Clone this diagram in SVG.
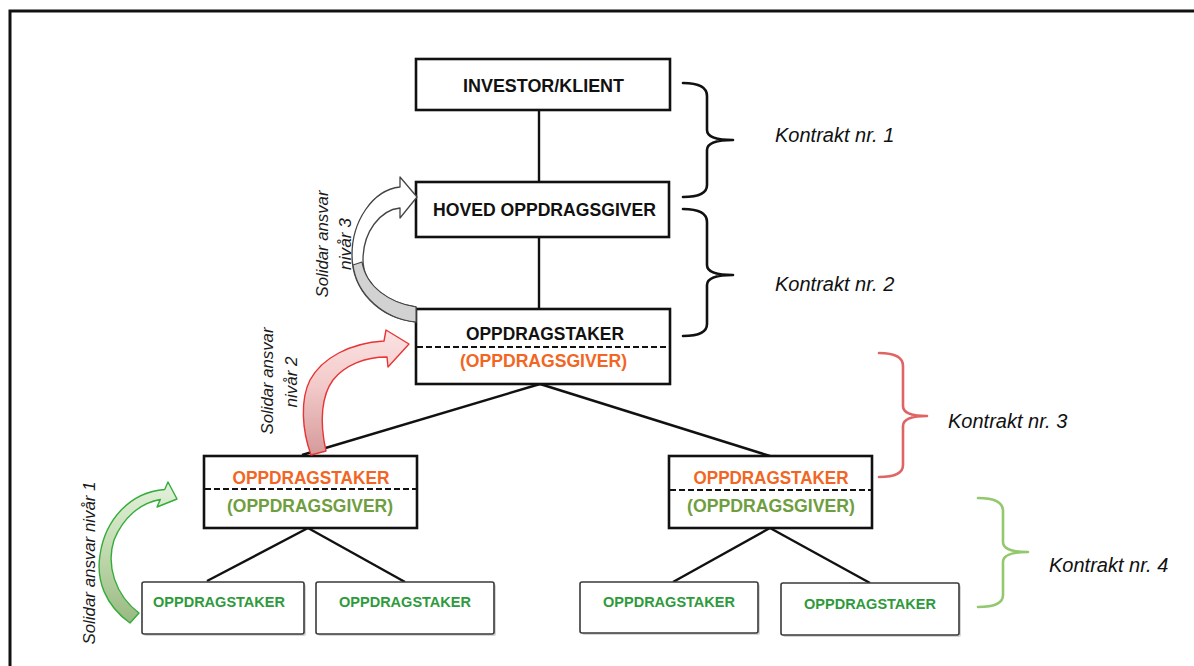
<svg xmlns="http://www.w3.org/2000/svg" width="1194" height="666" viewBox="0 0 1194 666">
  <style>
    .box { fill: #ffffff; stroke: #111111; stroke-width: 2.6; }
    .leaf { fill: #ffffff; stroke: #3a3a3a; stroke-width: 1.6; }
    .shadow { fill: #d6d6d6; }
    .split { stroke: #111111; stroke-width: 2; stroke-dasharray: 6 3; fill: none; }
    .link { stroke: #111111; stroke-width: 2.4; fill: none; }
    .brace { fill: none; stroke-width: 2.6; stroke-linecap: round; stroke-linejoin: round; }
    .t { font-family: "Liberation Sans", Arial, sans-serif; font-weight: bold; text-anchor: middle; }
    .title { font-size: 19px; fill: #111111; }
    .mid { font-size: 18px; }
    .leafText { font-size: 15.5px; fill: #2e9a3c; }
    .orange { fill: #f26522; }
    .olive { fill: #6e9e3e; }
    .label { font-family: "Liberation Sans", Arial, sans-serif; font-style: italic; font-size: 20px; fill: #111111; }
    .side { font-family: "Liberation Sans", Arial, sans-serif; font-style: italic; font-size: 17px; fill: #1a1a1a; text-anchor: middle; }
  </style>
  <defs>
    <linearGradient id="redFill" x1="0" y1="0" x2="0" y2="1">
      <stop offset="0" stop-color="#fbe3e3"/>
      <stop offset="0.45" stop-color="#f3c9c9"/>
      <stop offset="1" stop-color="#d59a9a"/>
    </linearGradient>
    <linearGradient id="greenFill" x1="0" y1="0" x2="0" y2="1">
      <stop offset="0" stop-color="#e4f1dc"/>
      <stop offset="0.45" stop-color="#c4dcb2"/>
      <stop offset="1" stop-color="#98b981"/>
    </linearGradient>
  </defs>

  <rect width="1194" height="666" fill="#ffffff"/>
  <!-- outer frame -->
  <rect x="10" y="11" width="1200" height="700" fill="none" stroke="#111111" stroke-width="3"/>

  <!-- connectors -->
  <g id="connectors">
    <line class="link" x1="539" y1="110" x2="539" y2="182"/>
    <line class="link" x1="539" y1="237" x2="539" y2="309"/>
    <line class="link" x1="540" y1="384" x2="302" y2="455"/>
    <line class="link" x1="540" y1="384" x2="770" y2="456"/>
    <line class="link" x1="308" y1="528" x2="207" y2="581"/>
    <line class="link" x1="308" y1="528" x2="405" y2="582"/>
    <line class="link" x1="770" y1="528" x2="673" y2="582"/>
    <line class="link" x1="770" y1="528" x2="870" y2="583"/>
  </g>

  <!-- nodes -->
  <g id="investor">
    <rect class="box" x="416" y="59" width="254" height="51"/>
    <text class="t title" x="543.5" y="92" textLength="161" lengthAdjust="spacingAndGlyphs">INVESTOR/KLIENT</text>
  </g>
  <g id="hoved">
    <rect class="box" x="416" y="182" width="253" height="55"/>
    <text class="t title" x="544.5" y="215.5" textLength="223" lengthAdjust="spacingAndGlyphs">HOVED OPPDRAGSGIVER</text>
  </g>
  <g id="oppdragstaker-1">
    <rect class="box" x="416" y="309" width="254" height="75"/>
    <line class="split" x1="417" y1="347" x2="669" y2="347"/>
    <text class="t mid" x="545" y="340" fill="#111111" textLength="158" lengthAdjust="spacingAndGlyphs">OPPDRAGSTAKER</text>
    <text class="t mid orange" x="543.5" y="366.5" textLength="167" lengthAdjust="spacingAndGlyphs">(OPPDRAGSGIVER)</text>
  </g>
  <g id="oppdragstaker-2a">
    <rect class="box" x="204" y="456" width="213" height="72"/>
    <line class="split" x1="205" y1="489" x2="416" y2="489"/>
    <text class="t mid orange" x="311" y="484" textLength="157" lengthAdjust="spacingAndGlyphs">OPPDRAGSTAKER</text>
    <text class="t mid olive" x="310" y="512" textLength="166" lengthAdjust="spacingAndGlyphs">(OPPDRAGSGIVER)</text>
  </g>
  <g id="oppdragstaker-2b">
    <rect class="box" x="669" y="456" width="203" height="72"/>
    <line class="split" x1="670" y1="490" x2="871" y2="490"/>
    <text class="t mid orange" x="771" y="484" textLength="155" lengthAdjust="spacingAndGlyphs">OPPDRAGSTAKER</text>
    <text class="t mid olive" x="771" y="512" textLength="168" lengthAdjust="spacingAndGlyphs">(OPPDRAGSGIVER)</text>
  </g>
  <g id="leaf-1">
    <rect class="shadow" x="144" y="584" width="162" height="52" rx="2"/>
    <rect class="leaf" x="142" y="582" width="162" height="52" rx="2"/>
    <text class="t leafText" x="219" y="606.5" textLength="132" lengthAdjust="spacingAndGlyphs">OPPDRAGSTAKER</text>
  </g>
  <g id="leaf-2">
    <rect class="shadow" x="318" y="584" width="178" height="52" rx="2"/>
    <rect class="leaf" x="316" y="582" width="178" height="52" rx="2"/>
    <text class="t leafText" x="405" y="606.5" textLength="132" lengthAdjust="spacingAndGlyphs">OPPDRAGSTAKER</text>
  </g>
  <g id="leaf-3">
    <rect class="shadow" x="582" y="584" width="178" height="51" rx="2"/>
    <rect class="leaf" x="580" y="582" width="178" height="51" rx="2"/>
    <text class="t leafText" x="669" y="606.5" textLength="132" lengthAdjust="spacingAndGlyphs">OPPDRAGSTAKER</text>
  </g>
  <g id="leaf-4">
    <rect class="shadow" x="783" y="585" width="178" height="52" rx="2"/>
    <rect class="leaf" x="781" y="583" width="178" height="52" rx="2"/>
    <text class="t leafText" x="870" y="608.5" textLength="132" lengthAdjust="spacingAndGlyphs">OPPDRAGSTAKER</text>
  </g>

  <!-- contract braces -->
  <g id="braces">
    <path class="brace" stroke="#111111" d="M683,83 Q707,83 707,96 L707,130 Q707,140 733,140 M733,140 Q707,140 707,150 L707,185 Q707,197 683,197"/>
    <path class="brace" stroke="#111111" d="M683,209 Q707,209 707,222 L707,265 Q707,275 733,275 M733,275 Q707,275 707,285 L707,324 Q707,336 683,336"/>
    <path class="brace" stroke="#e06464" d="M879,353 Q903,353 903,366 L903,406 Q903,416 927,416 M927,416 Q903,416 903,426 L903,465 Q903,477 879,477"/>
    <path class="brace" stroke="#93c86f" d="M978,498 Q1003,498 1003,511 L1003,542 Q1003,552 1028,552 M1028,552 Q1003,552 1003,562 L1003,595 Q1003,607 978,607"/>
  </g>
  <g id="contract-labels">
    <text class="label" x="775" y="142">Kontrakt nr. 1</text>
    <text class="label" x="775" y="291">Kontrakt nr. 2</text>
    <text class="label" x="948" y="428">Kontrakt nr. 3</text>
    <text class="label" x="1049" y="572">Kontrakt nr. 4</text>
  </g>

  <!-- joint liability arrows -->
  <g id="arrow-level-3">
    <path d="M400,177 L417,197 L400,218 L400,208 C380,210 363,232 363,260 C363,285 388,303 416,307 L416,322 C378,318 352,290 352,255 C352,222 372,190 400,187 Z" fill="#ffffff" stroke="#444444" stroke-width="1.3" stroke-linejoin="round"/>
    <path d="M353,265 C357,295 384,319 416,322 L416,307 C390,303 366,287 362,262 Z" fill="#d2d2d2" stroke="#444444" stroke-width="1.1" stroke-linejoin="round"/>
    <g transform="translate(328,244) rotate(-90)"><text class="side" x="0" y="0" textLength="107" lengthAdjust="spacingAndGlyphs">Solidar ansvar</text></g>
    <g transform="translate(351,244) rotate(-90)"><text class="side" x="0" y="0" textLength="52" lengthAdjust="spacingAndGlyphs">nivår 3</text></g>
  </g>
  <g id="arrow-level-2">
    <path d="M386,330 L409,344 L388,367 L387,357 C365,357 345,365 333,380 C322,395 319,420 326,451 L311,455 C302,430 300,400 310,380 C322,358 350,343 384,341 Z" fill="url(#redFill)" stroke="#e83434" stroke-width="1.4" stroke-linejoin="round"/>
    <g transform="translate(273,381) rotate(-90)"><text class="side" x="0" y="0" textLength="107" lengthAdjust="spacingAndGlyphs">Solidar ansvar</text></g>
    <g transform="translate(297,382) rotate(-90)"><text class="side" x="0" y="0" textLength="51" lengthAdjust="spacingAndGlyphs">nivår 2</text></g>
  </g>
  <g id="arrow-level-1">
    <path d="M168,482 L177,499 L157,507 L160.3,499.5 C140,503 123,518 114,540 C106,565 115,595 139,613 L130,623 C105,605 96,580 100,555 C105,520 130,492 164.7,489.5 Z" fill="url(#greenFill)" stroke="#34ac3a" stroke-width="1.4" stroke-linejoin="round"/>
    <g transform="translate(95,563) rotate(-90)"><text class="side" x="0" y="0" textLength="163" lengthAdjust="spacingAndGlyphs">Solidar ansvar nivår 1</text></g>
  </g>
</svg>
